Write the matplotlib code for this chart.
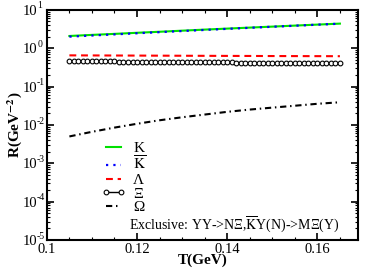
import numpy as np
import matplotlib
matplotlib.use('Agg')
import matplotlib.pyplot as plt
from matplotlib.ticker import LogLocator, MultipleLocator, FuncFormatter, NullFormatter

plt.rcParams['font.family'] = ['Liberation Serif', 'DejaVu Serif']
plt.rcParams['mathtext.fontset'] = 'stix'

# temperature grid (GeV)
T = [0.105, 0.110, 0.115, 0.120, 0.125, 0.130, 0.135,
     0.140, 0.145, 0.150, 0.155, 0.160, 0.165]
R_K = [2.08, 2.22, 2.36, 2.52, 2.68, 2.86, 3.05,
       3.24, 3.44, 3.65, 3.88, 4.12, 4.37]
R_Kbar = [2.00, 2.14, 2.29, 2.45, 2.62, 2.80, 2.99,
          3.19, 3.40, 3.62, 3.85, 4.10, 4.35]
R_Lam = [0.650, 0.647, 0.644, 0.641, 0.638, 0.635, 0.632,
         0.629, 0.627, 0.624, 0.622, 0.620, 0.618]
R_Om = [0.0050, 0.0066, 0.0085, 0.0107, 0.0132, 0.0158, 0.0186,
        0.0219, 0.0251, 0.0282, 0.0316, 0.0355, 0.0389]

# Xi is sampled finer (one point per MeV)
T_Xi = [0.105, 0.106, 0.107, 0.108, 0.109, 0.110, 0.111, 0.112, 0.113, 0.114,
        0.115, 0.116, 0.117, 0.118, 0.119, 0.120, 0.121, 0.122, 0.123, 0.124,
        0.125, 0.126, 0.127, 0.128, 0.129, 0.130, 0.131, 0.132, 0.133, 0.134,
        0.135, 0.136, 0.137, 0.138, 0.139, 0.140, 0.141, 0.142, 0.143, 0.144,
        0.145, 0.146, 0.147, 0.148, 0.149, 0.150, 0.151, 0.152, 0.153, 0.154,
        0.155, 0.156, 0.157, 0.158, 0.159, 0.160, 0.161, 0.162, 0.163, 0.164,
        0.165]
R_Xi = [0.460, 0.459, 0.458, 0.457, 0.456, 0.455, 0.454, 0.453, 0.452, 0.451,
        0.450, 0.449, 0.448, 0.447, 0.446, 0.445, 0.444, 0.443, 0.442, 0.441,
        0.440, 0.439, 0.438, 0.437, 0.436, 0.435, 0.434, 0.433, 0.432, 0.431,
        0.430, 0.429, 0.428, 0.427, 0.426, 0.425, 0.424, 0.423, 0.422, 0.421,
        0.420, 0.419, 0.418, 0.417, 0.416, 0.415, 0.414, 0.413, 0.412, 0.411,
        0.410, 0.409, 0.408, 0.407, 0.406, 0.405, 0.404, 0.403, 0.402, 0.401,
        0.400]

y_exps = [-5, -4, -3, -2, -1, 0, 1]

fig = plt.figure(figsize=(3.66, 2.73), dpi=100)
ax = fig.add_axes([0.128, 0.121, 0.850, 0.843])

ax.plot(T, R_K, color='#00e000', lw=1.5, label='K')
ax.plot(T, R_Kbar, color='#0000ff', lw=1.6, ls=(0, (1, 2.3)),
        label=r'$\overline{\mathrm{K}}$')
ax.plot(T, R_Lam, color='#ff0000', lw=1.5, ls=(0, (3.3, 2.3)), label='Λ')
ax.plot(T_Xi, R_Xi, color='black', lw=1.0, marker='o', ms=3.4,
        mfc='white', mec='black', mew=0.8, label='Ξ')
ax.plot(T, R_Om, color='black', lw=1.5, ls=(0, (3, 1.8, 0.7, 1.8)), label='Ω')

ax.set_yscale('log')
ax.set_xlim(0.1, 0.169)
ax.set_ylim(1e-5, 1e1)

ax.xaxis.set_major_locator(MultipleLocator(0.02))
ax.xaxis.set_minor_locator(MultipleLocator(0.005))
ax.xaxis.set_major_formatter(FuncFormatter(lambda v, p: '%g' % round(v, 3)))
ax.yaxis.set_major_locator(LogLocator(base=10, numticks=10))
ax.yaxis.set_minor_locator(LogLocator(base=10, subs=np.arange(2, 10), numticks=10))
ax.yaxis.set_major_formatter(FuncFormatter(lambda v, p: '10'))
ax.yaxis.set_minor_formatter(NullFormatter())

ax.tick_params(which='both', direction='in', top=True, right=True, labelsize=10.5)
ax.tick_params(axis='x', pad=2)
ax.tick_params(axis='y', pad=7)
ax.tick_params(which='major', length=5, width=1.2)
ax.tick_params(which='minor', length=2.5, width=0.8)
for s in ax.spines.values():
    s.set_linewidth(1.5)

# small exponents next to the "10" tick labels
for e in y_exps:
    ax.annotate(str(e), xy=(0, 10.0 ** e), xycoords=('axes fraction', 'data'),
                xytext=(-7, 2.8), textcoords='offset points', fontsize=7,
                ha='left', va='center')

ax.set_xlabel('T(GeV)', fontsize=11, fontweight='bold')
ax.set_ylabel(r'R(GeV$^{\mathbf{-2}}$)', fontsize=11, fontweight='bold')
ax.xaxis.set_label_coords(0.5, -0.06)
ax.yaxis.set_label_coords(-0.075, 0.5)

leg = ax.legend(loc='upper left', bbox_to_anchor=(0.155, 0.455), frameon=False,
                fontsize=11, handlelength=1.6, handletextpad=0.5,
                labelspacing=0.0, numpoints=2, borderaxespad=0)
ax.text(0.265, 0.07, r'Exclusive: YY->NΞ,$\overline{\mathrm{K}}$Y(N)->MΞ(Y)',
        transform=ax.transAxes, fontsize=10, va='center', ha='left')

fig.savefig('out.png', dpi=100)
